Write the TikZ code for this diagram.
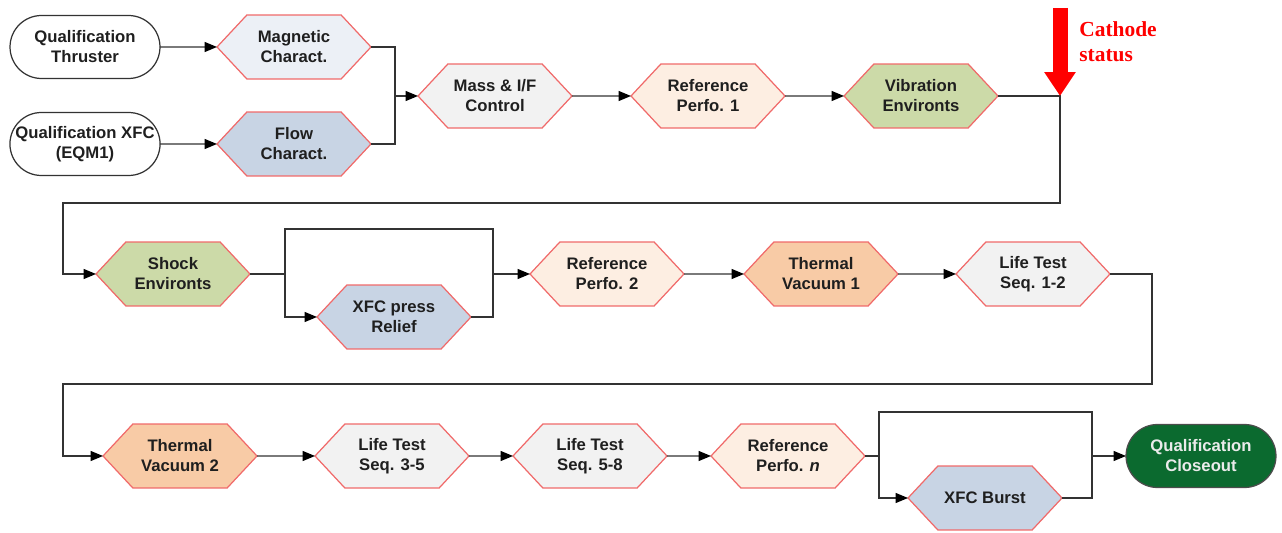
\documentclass[tikz,border=0pt]{standalone}
\usepackage{fontspec}
\setmainfont{Liberation Sans}
\newfontfamily\timesbold{Liberation Serif}
\usetikzlibrary{shapes.symbols,shapes.misc,arrows.meta}

\definecolor{hexline}{HTML}{F06A6A}
\definecolor{magfill}{HTML}{ECF0F6}
\definecolor{xfcfill}{HTML}{C8D4E4}
\definecolor{testfill}{HTML}{F2F2F2}
\definecolor{perffill}{HTML}{FDEEE2}
\definecolor{envfill}{HTML}{CCDAA8}
\definecolor{tvfill}{HTML}{F8CBA6}
\definecolor{closefill}{HTML}{0B6A2F}
\definecolor{linkgray}{HTML}{333333}

\tikzset{
  hexbox/.style={shape=signal, signal to=west and east, signal pointer angle=94,
    draw=hexline, line width=0.7pt, minimum width=3.08cm, minimum height=1.28cm,
    inner sep=0pt, outer sep=0pt, align=center, text=black!88,
    font=\fontsize{9.5}{11.4}\selectfont\bfseries},
  endbox/.style={shape=rounded rectangle, draw=black!80, line width=0.7pt,
    minimum width=3cm, minimum height=1.26cm, inner sep=0pt, outer sep=0pt,
    align=center, text=black!88, font=\fontsize{9.5}{11.4}\selectfont\bfseries},
  link/.style={draw=linkgray, line width=0.8pt},
  flow/.style={link, -{Triangle[length=0.25cm,width=0.2cm,color=black]}},
}

\begin{document}
\begin{tikzpicture}[x=0.02cm,y=-0.02cm]
  \useasboundingbox (0,0) rectangle (1282,533);

  % first row
  \node[endbox] (qthr) at (85,47) {Qualification\\Thruster};
  \node[endbox] (qxfc) at (85,144) {Qualification XFC\\(EQM1)};
  \node[hexbox,fill=magfill] (mag) at (294,47) {Magnetic\\Charact.};
  \node[hexbox,fill=xfcfill] (flw) at (294,144) {Flow\\Charact.};
  \node[hexbox,fill=testfill] (mass) at (495,96) {Mass \& I/F\\Control};
  \node[hexbox,fill=perffill] (ref1) at (708,96) {Reference\\Perfo. 1};
  \node[hexbox,fill=envfill] (vib) at (921,96) {Vibration\\Environts};

  % second row
  \node[hexbox,fill=envfill] (shock) at (173,274) {Shock\\Environts};
  \node[hexbox,fill=xfcfill] (relief) at (394,317) {XFC press\\Relief};
  \node[hexbox,fill=perffill] (ref2) at (607,274) {Reference\\Perfo. 2};
  \node[hexbox,fill=tvfill] (tv1) at (821,274) {Thermal\\Vacuum 1};
  \node[hexbox,fill=testfill] (lt12) at (1033,274) {Life Test\\Seq. 1-2};

  % third row
  \node[hexbox,fill=tvfill] (tv2) at (180,456) {Thermal\\Vacuum 2};
  \node[hexbox,fill=testfill] (lt35) at (392,456) {Life Test\\Seq. 3-5};
  \node[hexbox,fill=testfill] (lt58) at (590,456) {Life Test\\Seq. 5-8};
  \node[hexbox,fill=perffill] (refn) at (788,456) {Reference\\Perfo. \textit{n}};
  \node[hexbox,fill=xfcfill] (burst) at (985,498) {XFC Burst};
  \node[endbox,fill=closefill,draw=black!70,text=white!92!black] (close) at (1201,456)
    {Qualification\\Closeout};

  % junctions
  \coordinate (j1) at (395,96);
  \coordinate (turn1) at (1060,96);
  \coordinate (c1) at (1060,203);
  \coordinate (c2) at (63,203);
  \coordinate (s2) at (285,274);
  \coordinate (m2) at (493,274);
  \coordinate (c3) at (1152,384);
  \coordinate (c4) at (63,384);
  \coordinate (s3) at (879,456);
  \coordinate (m3) at (1092,456);

  % connectors
  \draw[flow] (qthr) -- (mag);
  \draw[flow] (qxfc) -- (flw);
  \draw[link] (mag.east) -| (j1);
  \draw[link] (flw.east) -| (j1);
  \draw[flow] (j1) -- (mass.west);
  \draw[flow] (mass) -- (ref1);
  \draw[flow] (ref1) -- (vib);
  \draw[flow] (vib.east) -- (turn1) -- (c1) -- (c2) |- (shock.west);

  \draw[link] (shock.east) -- (s2);
  \draw[flow] (s2) |- (relief.west);
  \draw[link] (relief.east) -| (m2);
  \draw[link] (s2) -- ++(0,-45) -| (m2);
  \draw[flow] (m2) -- (ref2.west);
  \draw[flow] (ref2) -- (tv1);
  \draw[flow] (tv1) -- (lt12);
  \draw[flow] (lt12.east) -| (c3) -- (c4) |- (tv2.west);

  \draw[flow] (tv2) -- (lt35);
  \draw[flow] (lt35) -- (lt58);
  \draw[flow] (lt58) -- (refn);
  \draw[link] (refn.east) -- (s3);
  \draw[flow] (s3) |- (burst.west);
  \draw[link] (burst.east) -| (m3);
  \draw[link] (s3) -- ++(0,-44) -| (m3);
  \draw[flow] (m3) -- (close.west);

  % cathode marker
  \coordinate (cathtop) at (1060,8);
  \draw[red,line width=0.3cm,-{Triangle[length=0.48cm,width=0.6cm]}] (cathtop) -- (turn1);
  \node[anchor=north west,inner sep=0pt,align=left,text=red,
    font=\timesbold\fontsize{12.2}{14.2}\selectfont\bfseries] (cathtxt) at (1079,21)
    {Cathode\\status};
\end{tikzpicture}
\end{document}
